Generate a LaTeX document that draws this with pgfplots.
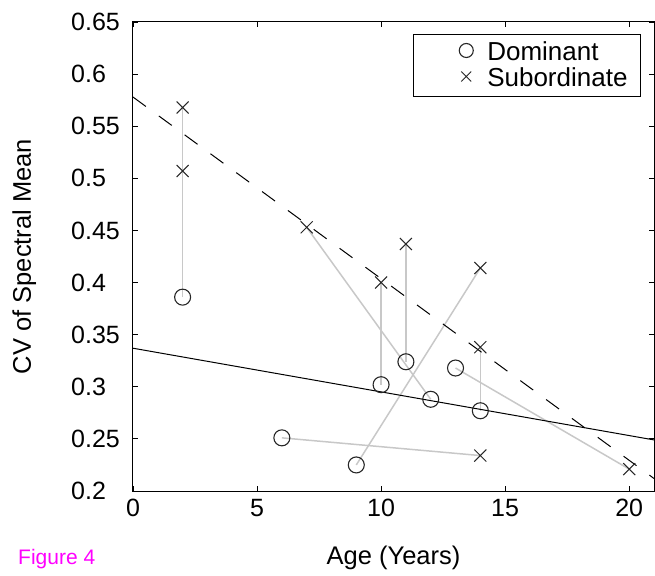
\documentclass[border=0pt]{standalone}
\usepackage{pgfplots}
\pgfplotsset{compat=1.18}
\usepackage{fontspec}
\setmainfont{Liberation Sans}
\definecolor{linkgray}{RGB}{200,200,200}
\definecolor{figmag}{RGB}{255,0,255}

\begin{document}
\begin{tikzpicture}
\begin{axis}[
  scale only axis,
  width=521pt, height=469pt,
  xmin=0, xmax=21, ymin=0.2, ymax=0.65,
  xtick={0,5,10,15,20},
  ytick={0.2,0.25,0.3,0.35,0.4,0.45,0.5,0.55,0.6,0.65},
  yticklabels={0.2,0.25,0.3,0.35,0.4,0.45,0.5,0.55,0.6,0.65},
  /pgf/number format/assume math mode=true,
  tick label style={font=\fontsize{25}{30}\selectfont},
  yticklabel style={anchor=west, inner xsep=0pt, xshift=-62pt},
  xticklabel style={yshift=-5pt},
  xlabel={Age (Years)},
  ylabel={CV of Spectral Mean},
  every axis x label/.style={at={(rel axis cs:0.5,0)}, anchor=base, yshift=-73pt,
    font=\fontsize{25.5}{30}\selectfont},
  every axis y label/.style={at={(rel axis cs:0,0.5)}, anchor=base, xshift=-102pt, rotate=90,
    font=\fontsize{25.5}{30}\selectfont},
  axis line style={line width=1pt},
  tick style={black, line width=0.8pt},
  major tick length=5pt,
  legend style={at={(1,1)}, anchor=north east, xshift=-13pt, yshift=-12pt,
    draw=black, line width=1pt, fill=white,
    inner xsep=13pt, inner ysep=8pt,
    font=\fontsize{26}{28}\selectfont,
    nodes={inner sep=0pt, text height=18pt, text depth=2pt},
    row sep=6pt},
  legend cell align=left,
  legend image code/.code={\path[draw=none] (-40pt,2pt) -- (21pt,2pt);
    \draw[#1] plot coordinates {(0pt,2pt)};},
]
% grey links between each dominant and its subordinate
\addplot[linkgray, line width=1.5pt, forget plot] coordinates {(2,0.386) (2,0.568)};
\addplot[linkgray, line width=1.5pt, forget plot] coordinates {(6,0.251) (14,0.234)};
\addplot[linkgray, line width=1.5pt, forget plot] coordinates {(9,0.225) (14,0.414)};
\addplot[linkgray, line width=1.5pt, forget plot] coordinates {(10,0.302) (10,0.400)};
\addplot[linkgray, line width=1.5pt, forget plot] coordinates {(11,0.324) (11,0.437)};
\addplot[linkgray, line width=1.5pt, forget plot] coordinates {(12,0.288) (7,0.453)};
\addplot[linkgray, line width=1.5pt, forget plot] coordinates {(13,0.318) (20,0.221)};
\addplot[linkgray, line width=1.5pt, forget plot] coordinates {(14,0.277) (14,0.338)};
% fits
\addplot[black, line width=1pt, forget plot] coordinates {(0,0.337) (21,0.249)};
\addplot[black, line width=1pt, dash pattern=on 16pt off 16pt, forget plot] coordinates {(0,0.578) (21,0.212)};
% points
\addplot[only marks, mark=o, mark size=8pt, black!85, mark options={line width=1.1pt},
  legend image post style={mark size=7pt}] coordinates {
(2,0.386) (6,0.251) (9,0.225) (10,0.302) (11,0.324) (12,0.288) (13,0.318) (14,0.277)};
\addlegendentry{Dominant}
\addplot[only marks, mark=x, mark size=8.5pt, black!85, mark options={line width=1pt},
  legend image post style={mark size=7pt}] coordinates {
(2,0.568) (2,0.507) (14,0.234) (14,0.414) (10,0.400) (11,0.437) (7,0.453) (20,0.221) (14,0.338)};
\addlegendentry{Subordinate}
\end{axis}
\node[anchor=base west, text=figmag, inner sep=0pt, font=\fontsize{21}{24}\selectfont]
  at ([shift={(-115pt,-73pt)}]current axis.south west) {Figure 4};
\path ([shift={(-133pt,-84pt)}]current axis.south west) rectangle ([shift={(1pt,22pt)}]current axis.north east);
\end{tikzpicture}
\end{document}
